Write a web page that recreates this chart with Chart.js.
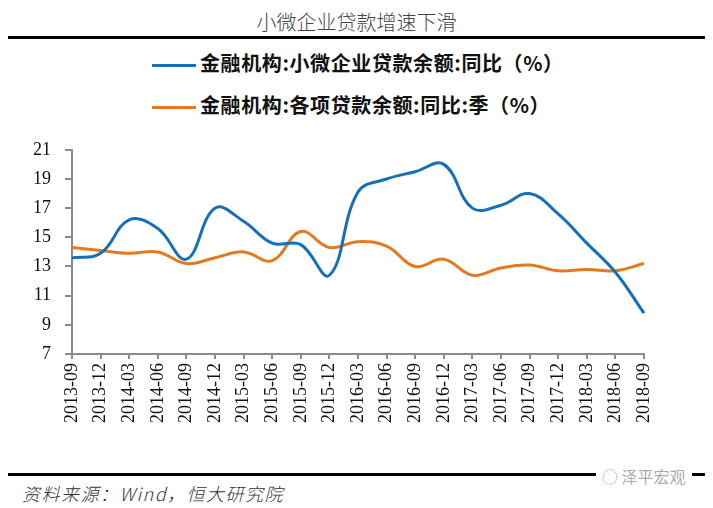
<!DOCTYPE html>
<html>
<head>
<meta charset="utf-8">
<script src="https://cdn.jsdelivr.net/npm/chart.js@4.4.0/dist/chart.umd.min.js"></script>
<style>
  html, body { margin: 0; padding: 0; background: #fff; }
  body { width: 713px; height: 508px; position: relative; overflow: hidden; font-family: "Noto Sans CJK SC", sans-serif; }
  .title { position: absolute; left: 0; top: 7px; width: 713px; text-align: center; font-size: 20px; color: #444; font-weight: 300; }
  .rule { position: absolute; left: 8px; width: 697px; height: 3px; background: #000; }
  .legend { position: absolute; left: 152px; font-size: 20px; letter-spacing: 0.6px; font-weight: bold; color: #111; white-space: nowrap; }
  .legend i { display: inline-block; width: 44px; height: 3px; vertical-align: middle; margin-right: 4px; }
  .source { position: absolute; left: 22px; top: 480px; font-size: 18px; letter-spacing: 1.5px; font-style: italic; color: #333; font-weight: 300; }
  .mark { position: absolute; left: 596px; top: 464px; font-size: 16px; color: #aaa; background: #fff; padding: 0 6px; }
  #wrap { position: absolute; left: 0; top: 125px; width: 713px; height: 345px; }
</style>
</head>
<body>
<div class="title">小微企业贷款增速下滑</div>
<div class="rule" style="top:36px"></div>
<div class="legend" style="top:48px"><i style="background:#1570B8"></i>金融机构:小微企业贷款余额:同比（%）</div>
<div class="legend" style="top:90px"><i style="background:#E5791F"></i>金融机构:各项贷款余额:同比:季（%）</div>
<div id="wrap"><canvas id="c"></canvas></div>
<div class="rule" style="top:473px"></div>
<div class="mark">◌ 泽平宏观</div>
<div class="source">资料来源：Wind，恒大研究院</div>
<script>
const quarters = ['2013-09', '2013-12', '2014-03', '2014-06', '2014-09', '2014-12', '2015-03', '2015-06', '2015-09', '2015-12',
  '2016-03', '2016-06', '2016-09', '2016-12', '2017-03', '2017-06', '2017-09', '2017-12', '2018-03', '2018-06', '2018-09'];
const smallMicroLoans = [13.6, 13.9, 16.2, 15.6, 13.5, 17.0, 16.1, 14.6, 14.5, 12.4, 18.1, 19.0, 19.5, 20.0, 17.0, 17.2, 18.0, 16.6, 14.6, 12.6, 9.8];
const allLoans = [14.3, 14.1, 13.9, 14.0, 13.2, 13.6, 14.0, 13.4, 15.4, 14.3, 14.7, 14.4, 13.0, 13.5, 12.4, 12.9, 13.1, 12.7, 12.8, 12.7, 13.2];
const yMin = 7, yMax = 21, yStep = 2;

const axisColor = '#8a8a8a';
const tickFont = { family: 'Liberation Serif', size: 18 };

new Chart(document.getElementById('c'), {
  type: 'line',
  data: {
    labels: quarters,
    datasets: [
      { label: '金融机构:小微企业贷款余额:同比（%）', data: smallMicroLoans, borderColor: '#1570B8', borderWidth: 3, pointRadius: 0, tension: 0.4 },
      { label: '金融机构:各项贷款余额:同比:季（%）', data: allLoans, borderColor: '#E5791F', borderWidth: 3, pointRadius: 0, tension: 0.4 }
    ]
  },
  options: {
    responsive: true,
    maintainAspectRatio: false,
    animation: false,
    layout: { padding: { top: 14, right: 69, left: 0, bottom: 0 } },
    plugins: { legend: { display: false }, tooltip: { enabled: false } },
    scales: {
      x: {
        offset: false,
        grid: { display: true, drawOnChartArea: false, drawTicks: true, tickLength: 5, color: axisColor, lineWidth: 2 },
        border: { color: axisColor, width: 2 },
        ticks: { color: '#111', font: tickFont, minRotation: 90, maxRotation: 90, autoSkip: false, padding: 4 },
        afterFit: s => { s.height = 116; }
      },
      y: {
        min: yMin, max: yMax,
        grid: { display: true, drawOnChartArea: false, drawTicks: true, tickLength: 7, color: axisColor, lineWidth: 2 },
        border: { color: axisColor, width: 2 },
        ticks: { stepSize: yStep, color: '#111', font: tickFont, padding: 14 },
        afterFit: s => { s.width = 72; }
      }
    }
  }
});
</script>
</body>
</html>
